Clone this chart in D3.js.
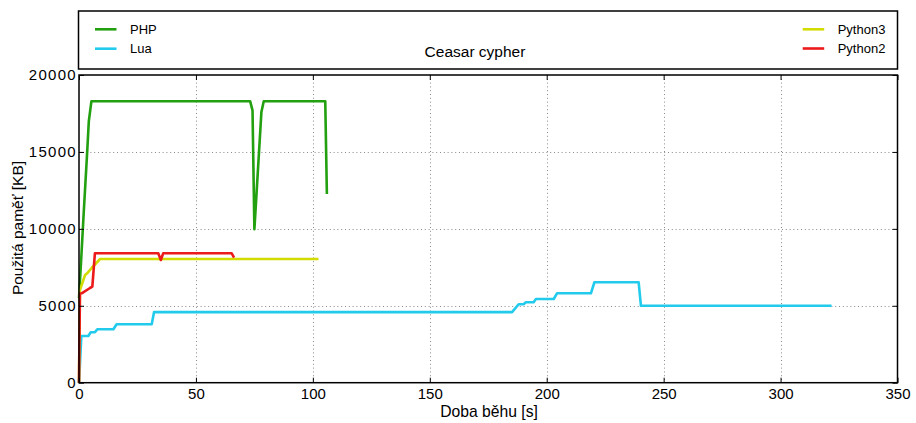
<!DOCTYPE html>
<html><head><meta charset="utf-8">
<script src="https://cdn.jsdelivr.net/npm/d3@7"></script>
<style>body{margin:0;background:#fff}svg{display:block;font-family:"Liberation Sans",Arial,sans-serif}</style>
</head><body><svg id="c" width="916" height="423"></svg>
<script>
// ---- data ----
const seriesNames = ["PHP", "Lua", "Python3", "Python2"];
const phpTime = [0, 1, 2, 3.5, 4.2, 5.3, 73.2, 74.2, 75, 76, 78, 79, 105.3, 106];
const phpMem  = [5500, 8200, 11000, 15000, 17000, 18290, 18290, 17700, 9980, 12500, 17600, 18290, 18290, 12270];
const luaTime = [0, 1, 4, 5, 6.8, 7.8, 14.7, 16.1, 31.1, 32.1, 185.2, 188, 190.1, 191.1, 194.4, 195.4, 203, 204.4, 218.9, 220.4, 239.3, 240.3, 321.8];
const luaMem  = [0, 3040, 3040, 3280, 3280, 3470, 3470, 3800, 3800, 4590, 4590, 5100, 5100, 5230, 5230, 5440, 5440, 5810, 5810, 6530, 6530, 5000, 5000];
const py3Time = [0, 0.4, 2.6, 3.5, 5.4, 9, 102.4];
const py3Mem  = [0, 6020, 7000, 7110, 7455, 8040, 8040];
const py2Time = [0, 0.4, 1.15, 4.7, 5.7, 6.8, 33.9, 35, 36, 65.3, 66.3];
const py2Mem  = [0, 5800, 5810, 6155, 6240, 8410, 8410, 7975, 8410, 8410, 8125];
const xTicks = [0, 50, 100, 150, 200, 250, 300, 350];
const yTicks = [0, 5000, 10000, 15000, 20000];
const chartTitle = "Ceasar cypher";
const xLabel = "Doba běhu [s]";
const yLabel = "Použitá paměť [KB]";
const colors = {PHP: "#22a010", Lua: "#22cbec", Python3: "#d2dc00", Python2: "#ec1a1a"};

const series = [
  {name: "PHP", t: phpTime, v: phpMem},
  {name: "Lua", t: luaTime, v: luaMem},
  {name: "Python3", t: py3Time, v: py3Mem},
  {name: "Python2", t: py2Time, v: py2Mem}
];

// ---- layout ----
const L = 79, R = 897.5, T = 75, B = 382.7;
const svg = d3.select("#c");
const x = d3.scaleLinear().domain([0, 350]).range([L, R]);
const y = d3.scaleLinear().domain([0, 20000]).range([B, T]);

// grid
const grid = svg.append("g").attr("stroke", "#8a8a8a").attr("stroke-width", 1).attr("stroke-dasharray", "1,2.8");
grid.selectAll("line.gx").data(xTicks.slice(1, -1)).join("line")
  .attr("x1", d => Math.round(x(d)) + 0.5).attr("x2", d => Math.round(x(d)) + 0.5).attr("y1", T).attr("y2", B);
grid.selectAll("line.gy").data(yTicks.slice(1, -1)).join("line")
  .attr("y1", d => Math.round(y(d)) + 0.5).attr("y2", d => Math.round(y(d)) + 0.5).attr("x1", L).attr("x2", R);

// lines
const line = d3.line().x(d => x(d[0])).y(d => y(d[1]));
svg.append("g").selectAll("path").data(series).join("path")
  .attr("d", s => line(s.t.map((t, i) => [t, s.v[i]])))
  .attr("fill", "none").attr("stroke", s => colors[s.name]).attr("stroke-width", 2.6)
  .attr("stroke-linejoin", "round");

// axes (inward ticks on all sides)
const fx = d3.format("d");
const axB = svg.append("g").attr("transform", `translate(0,${B})`)
  .call(d3.axisBottom(x).tickValues(xTicks).tickSize(-5).tickPadding(5.5).tickFormat(fx));
const axT = svg.append("g").attr("transform", `translate(0,${T})`)
  .call(d3.axisTop(x).tickValues(xTicks).tickSize(-5).tickFormat(""));
const axL = svg.append("g").attr("transform", `translate(${L},0)`)
  .call(d3.axisLeft(y).tickValues(yTicks).tickSize(-5).tickPadding(3).tickFormat(fx));
const axR = svg.append("g").attr("transform", `translate(${R},0)`)
  .call(d3.axisRight(y).tickValues(yTicks).tickSize(-5).tickFormat(""));
[axB, axT, axL, axR].forEach(a => {
  a.select(".domain").remove();
  a.selectAll(".tick line").attr("stroke", "#000").attr("stroke-width", 1);
  a.selectAll("text").attr("fill", "#000").attr("font-family", "Liberation Sans, Arial, sans-serif");
});
axB.selectAll("text").attr("font-size", 15);
axL.selectAll("text").attr("font-size", 15).attr("letter-spacing", "1.3px").attr("dx", "1px");

// frame
svg.append("rect").attr("x", L).attr("y", T).attr("width", R - L).attr("height", B - T)
  .attr("fill", "none").attr("stroke", "#000").attr("stroke-width", 1.5);

// axis titles
svg.append("text").attr("x", 489).attr("y", 417).attr("text-anchor", "middle")
  .attr("font-size", 15.7).text(xLabel);
svg.append("text").attr("transform", "translate(23,228) rotate(-90)").attr("text-anchor", "middle")
  .attr("font-size", 15.5).text(yLabel);

// legend box
svg.append("rect").attr("x", 78.5).attr("y", 11).attr("width", 819).attr("height", 58)
  .attr("fill", "#fff").attr("stroke", "#000").attr("stroke-width", 1.5);
svg.append("text").attr("x", 475).attr("y", 56.5).attr("text-anchor", "middle")
  .attr("font-size", 15.5).text(chartTitle);
const legPos = {
  PHP: {x: 95, y: 29.3}, Lua: {x: 95, y: 48.7},
  Python3: {x: 802.7, y: 29.3}, Python2: {x: 802.7, y: 48.5}
};
const lg = svg.append("g").selectAll("g").data(seriesNames).join("g")
  .attr("transform", d => `translate(${legPos[d].x},${legPos[d].y})`);
lg.append("line").attr("x1", 0).attr("x2", 21.5).attr("stroke", d => colors[d]).attr("stroke-width", 2.6);
lg.append("text").attr("x", 35).attr("y", 4.6).attr("font-size", 13).text(d => d);
</script></body></html>
